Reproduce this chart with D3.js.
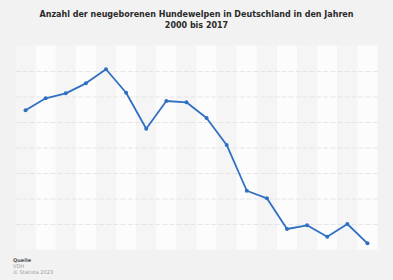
<!DOCTYPE html>
<html>
<head>
<meta charset="utf-8">
<script src="https://cdn.jsdelivr.net/npm/d3@7"></script>
<style>
  html, body { margin: 0; padding: 0; background: #f2f2f2; }
  svg { display: block; }
</style>
</head>
<body>
<div id="chart"></div>
<script>
// Data (no axis labels shown in the original)
const years = ['2000', '2001', '2002', '2003', '2004', '2005', '2006', '2007', '2008',
  '2009', '2010', '2011', '2012', '2013', '2014', '2015', '2016', '2017'];
const puppies = [83650, 84820, 85310, 86290, 87670, 85370, 81840, 84560, 84430,
  82890, 80250, 75760, 75020, 72010, 72370, 71250, 72500, 70610];
const yTicks = [70000, 72500, 75000, 77500, 80000, 82500, 85000, 87500, 90000];
const titleLines = ['Anzahl der neugeborenen Hundewelpen in Deutschland in den Jahren', '2000 bis 2017'];
const sourceLines = ['Quelle', 'VDH', '© Statista 2023'];

const w = 393;
const h = 280;
const margin = { top: 45.5, right: 15.5, bottom: 30.5, left: 15.5 };

const svg = d3.select('#chart')
  .append('svg')
  .attr('width', w)
  .attr('height', h)
  .attr('viewBox', `0 0 ${w} ${h}`);

svg.append('rect')
  .attr('width', w)
  .attr('height', h)
  .attr('fill', '#f2f2f2');

// Scales
const xScale = d3.scaleBand()
  .domain(years)
  .range([margin.left, w - margin.right]);

const yScale = d3.scaleLinear()
  .domain([70000, 90000])
  .range([h - margin.bottom, margin.top]);

// Alternating column bands
svg.append('g')
  .selectAll('rect')
  .data(years)
  .join('rect')
    .attr('x', d => xScale(d))
    .attr('y', margin.top)
    .attr('width', xScale.bandwidth())
    .attr('height', h - margin.top - margin.bottom)
    .attr('fill', (d, i) => i % 2 ? '#fcfcfc' : '#f5f5f5');

// Horizontal grid
const yAxis = d3.axisLeft(yScale)
  .tickValues(yTicks.slice(1, -1))
  .tickFormat('')
  .tickSize(0 - (w - margin.left - margin.right));

svg.append('g')
  .classed('y-axis', true)
  .attr('transform', `translate(${margin.left}, 0)`)
  .call(yAxis);

svg.select('.y-axis .domain').remove();

svg.selectAll('.y-axis .tick line')
  .attr('stroke', '#e0e0e0')
  .attr('stroke-width', 0.8)
  .attr('stroke-dasharray', '5,2');

// Line
const line = d3.line()
  .x((d, i) => xScale(years[i]) + xScale.bandwidth() / 2)
  .y(d => yScale(d));

svg.append('path')
  .datum(puppies)
  .attr('fill', 'none')
  .attr('stroke', '#3070c2')
  .attr('stroke-width', 1.8)
  .attr('stroke-linejoin', 'round')
  .attr('d', line);

svg.append('g')
  .selectAll('circle')
  .data(puppies)
  .join('circle')
    .attr('cx', (d, i) => xScale(years[i]) + xScale.bandwidth() / 2)
    .attr('cy', d => yScale(d))
    .attr('r', 2)
    .attr('fill', '#3070c2');

// Title
svg.append('g')
  .selectAll('text')
  .data(titleLines)
  .join('text')
    .attr('x', w / 2)
    .attr('y', (d, i) => 17 + i * 11)
    .attr('text-anchor', 'middle')
    .attr('font-family', 'DejaVu Sans')
    .attr('font-weight', 'bold')
    .attr('font-size', 8)
    .attr('fill', '#2a2a2a')
    .text(d => d);

// Source
svg.append('g')
  .selectAll('text')
  .data(sourceLines)
  .join('text')
    .attr('x', 13)
    .attr('y', (d, i) => 262 + i * 6)
    .attr('font-family', 'DejaVu Sans')
    .attr('font-weight', (d, i) => i === 0 ? 'bold' : 'normal')
    .attr('font-size', 5)
    .attr('fill', (d, i) => i === 0 ? '#555' : '#999')
    .text(d => d);
</script>
</body>
</html>
